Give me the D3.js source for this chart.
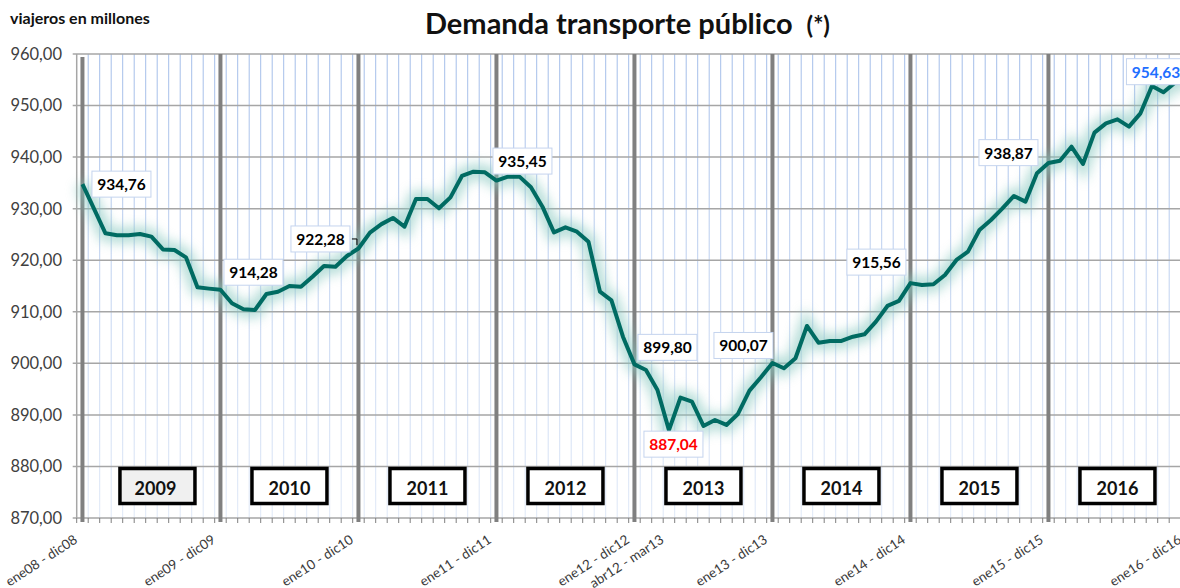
<!DOCTYPE html>
<html>
<head>
<meta charset="utf-8">
<script src="https://cdn.jsdelivr.net/npm/d3@7"></script>
<style>
  html, body { margin: 0; padding: 0; background: #fff; }
  svg { display: block; font-family: Lato, "Liberation Sans", sans-serif; }
</style>
</head>
<body>
<svg id="chart" width="1180" height="588"></svg>
<script>
// ---------------- DATA ----------------
const monthNames = ["ene","feb","mar","abr","may","jun","jul","ago","sep","oct","nov","dic"];
const seriesValues = [
  934.76, 930.00, 925.22, 924.83, 924.83, 925.09, 924.57, 922.10, 921.98, 920.56, 914.75, 914.49,
  914.28, 911.64, 910.48, 910.35, 913.45, 913.90, 915.00, 914.87, 916.81, 918.88, 918.75, 920.82,
  922.28, 925.34, 927.00, 928.20, 926.50, 931.88, 931.88, 930.07, 932.20, 936.34, 937.18, 937.05,
  935.45, 936.21, 936.21, 934.14, 930.39, 925.41, 926.38, 925.54, 923.60, 913.90, 912.20, 905.17,
  899.80, 898.71, 894.83, 887.04, 893.35, 892.57, 887.85, 889.01, 888.05, 890.18, 894.70, 897.30,
  900.07, 899.04, 900.98, 907.25, 904.00, 904.34, 904.34, 905.17, 905.63, 908.08, 911.13, 912.10,
  915.56, 915.20, 915.33, 917.14, 920.05, 921.66, 925.87, 927.80, 930.07, 932.46, 931.36, 936.86,
  938.87, 939.31, 942.03, 938.67, 944.74, 946.55, 947.33, 945.91, 948.49, 953.79, 952.57, 954.44,
  954.63
];
// category labels: rolling 12-month periods, starting "ene08 - dic08"
const categories = seriesValues.map((_, i) => {
  const s = i, e = i + 11;
  const sy = String(8 + Math.floor(s / 12)).padStart(2, "0");
  const ey = String(8 + Math.floor(e / 12)).padStart(2, "0");
  return monthNames[s % 12] + sy + " - " + monthNames[e % 12] + ey;
});
const tickLabels = ["ene08 - dic08","ene09 - dic09","ene10 - dic10","ene11 - dic11","ene12 - dic12",
                    "abr12 - mar13","ene13 - dic13","ene14 - dic14","ene15 - dic15","ene16 - dic16"];
const yearLabels = ["2009","2010","2011","2012","2013","2014","2015","2016"];
const yTicks = [870, 880, 890, 900, 910, 920, 930, 940, 950, 960];
const labelledPoints = ["ene08 - dic08","ene09 - dic09","ene10 - dic10","ene11 - dic11","ene12 - dic12",
                        "abr12 - mar13","ene13 - dic13","ene14 - dic14","ene15 - dic15","ene16 - dic16"];

// ---------------- LAYOUT / STYLE ----------------
const plotLeft = 76.7, plotTop = 54, plotBottom = 518, step = 11.5;
// label box offsets relative to point (box left/top), styling only
const labelStyle = {
  "ene08 - dic08": {dx: 9.5,  dy: -13,  color: "#000"},
  "ene09 - dic09": {dx: 3.5,  dy: -30.5, color: "#000"},
  "ene10 - dic10": {dx: -67.5, dy: -22.5, color: "#000", leader: true},
  "ene11 - dic11": {dx: -3.5, dy: -32.5, color: "#000"},
  "ene12 - dic12": {dx: 3.5,  dy: -30,  color: "#000"},
  "abr12 - mar13": {dx: -25,  dy: 1,    color: "#ff0000"},
  "ene13 - dic13": {dx: -58.5, dy: -30.5, color: "#000"},
  "ene14 - dic14": {dx: -63.5, dy: -34,  color: "#000"},
  "ene15 - dic15": {dx: -69.5, dy: -23.3, color: "#000"},
  "ene16 - dic16": {dx: -60,  dy: -23,  color: "#1f6fff"}
};

const svg = d3.select("#chart");
const x = d3.scaleBand().domain(categories).range([plotLeft, plotLeft + categories.length * step]).padding(0);
const cx = c => x(c) + x.bandwidth() / 2;
const y = d3.scaleLinear().domain([870, 960]).range([plotBottom, plotTop]);
const locale = d3.formatLocale({decimal: ",", thousands: ".", grouping: [3], currency: ["", "€"]});
const fmt = locale.format(".2f");

const defs = svg.append("defs");
const grad = defs.append("linearGradient").attr("id", "vgrid")
  .attr("gradientUnits", "userSpaceOnUse").attr("x1", 0).attr("y1", plotTop).attr("x2", 0).attr("y2", plotBottom);
grad.append("stop").attr("offset", 0).attr("stop-color", "#a3bde9");
grad.append("stop").attr("offset", 1).attr("stop-color", "#dfe8f7");
const glow = defs.append("filter").attr("id", "glow").attr("x", "-10%").attr("y", "-20%").attr("width", "120%").attr("height", "140%");
glow.append("feGaussianBlur").attr("stdDeviation", 6);

// vertical light-blue grid (category boundaries)
const bounds = categories.slice(1).map(c => x(c));
svg.append("g").selectAll("line").data(bounds).join("line")
  .attr("x1", d => d).attr("x2", d => d).attr("y1", plotTop).attr("y2", plotBottom)
  .attr("stroke", "url(#vgrid)").attr("stroke-width", 1);

// horizontal gridlines
svg.append("g").selectAll("line").data(yTicks).join("line")
  .attr("x1", plotLeft - 4).attr("x2", 1180).attr("y1", d => y(d)).attr("y2", d => y(d))
  .attr("stroke", "#a6a6a6").attr("stroke-width", 1.5);

// left axis line
svg.append("line").attr("x1", plotLeft).attr("x2", plotLeft).attr("y1", plotTop).attr("y2", plotBottom)
  .attr("stroke", "#a6a6a6").attr("stroke-width", 1.5);

// y labels
svg.append("g").selectAll("text").data(yTicks).join("text")
  .attr("x", 62).attr("y", d => y(d)).attr("dy", "0.36em")
  .attr("text-anchor", "end").attr("font-size", 16.5).attr("fill", "#404040")
  .text(d => fmt(d));

// x-axis ticks
svg.append("g").selectAll("line").data([plotLeft].concat(bounds)).join("line")
  .attr("x1", d => d).attr("x2", d => d).attr("y1", plotBottom).attr("y2", plotBottom + 5)
  .attr("stroke", "#7f7f7f").attr("stroke-width", 1);

// thick year separators
const sepCats = tickLabels.filter(t => t.startsWith("ene"));
svg.append("g").selectAll("line").data(sepCats).join("line")
  .attr("x1", d => cx(d)).attr("x2", d => cx(d)).attr("y1", (d, i) => i === 0 ? plotTop + 3 : plotTop).attr("y2", plotBottom + 4)
  .attr("stroke", "#808080").attr("stroke-width", 4);

// year boxes
const yearG = svg.append("g").selectAll("g").data(yearLabels).join("g")
  .attr("transform", (d, i) => {
    const a = cx(sepCats[i]), b = cx(sepCats[i + 1]);
    return `translate(${(a + b) / 2 + (i === 0 ? 6 : 0)},${y(879.6)})`;
  });
yearG.append("rect").attr("x", -37.5).attr("y", 0).attr("width", 75).attr("height", 35)
  .attr("fill", (d, i) => i === 0 ? "#f0f0f0" : "#fff").attr("stroke", "#000").attr("stroke-width", 3.5);
yearG.append("text").attr("x", (d, i) => i === 0 ? -2 : 0).attr("y", 26).attr("text-anchor", "middle")
  .attr("font-size", 18).attr("font-weight", 700).attr("fill", "#111").text(d => d);

// line glow + line
const line = d3.line().x((d, i) => cx(categories[i])).y(d => y(d));
svg.append("path").datum(seriesValues).attr("d", line)
  .attr("fill", "none").attr("stroke", "#86c7bf").attr("stroke-width", 16).attr("opacity", 0.6)
  .attr("filter", "url(#glow)");
svg.append("path").datum(seriesValues).attr("d", line)
  .attr("fill", "none").attr("stroke", "#006b62").attr("stroke-width", 4).attr("stroke-linejoin", "round");

// x labels
svg.append("g").selectAll("text").data(tickLabels).join("text")
  .attr("transform", d => `translate(${cx(d) - 4},${542}) rotate(-33)`)
  .attr("text-anchor", "end").attr("font-size", 13.5).attr("fill", "#3a3a3a")
  .text(d => d);

// data labels
labelledPoints.forEach(c => {
  const i = categories.indexOf(c);
  const st = labelStyle[c];
  const px = cx(c), py = y(seriesValues[i]);
  const bx = px + st.dx, by = py + st.dy;
  svg.append("rect").attr("x", bx).attr("y", by).attr("width", 59).attr("height", 26)
    .attr("fill", "#fff").attr("stroke", "#c5d4ee").attr("stroke-width", 1);
  svg.append("text").attr("x", bx + 29.5).attr("y", by + 19).attr("text-anchor", "middle")
    .attr("font-size", 15.5).attr("font-weight", 700).attr("fill", st.color)
    .text(fmt(seriesValues[i]));
  if (st.leader) {
    svg.append("path").attr("d", `M${bx + 61},${by + 13}H${bx + 66}V${by + 19}`)
      .attr("fill", "none").attr("stroke", "#000").attr("stroke-width", 1);
  }
});

// titles
svg.append("text").attr("x", 10).attr("y", 24).attr("font-size", 16).attr("font-weight", 700)
  .attr("fill", "#111").text("viajeros en millones");
const title = svg.append("text").attr("x", 425).attr("y", 34).attr("font-weight", 700).attr("fill", "#111");
title.append("tspan").attr("font-size", 29).text("Demanda transporte público");
title.append("tspan").attr("font-size", 24).attr("dx", 14).text("(*)");
</script>
</body>
</html>
